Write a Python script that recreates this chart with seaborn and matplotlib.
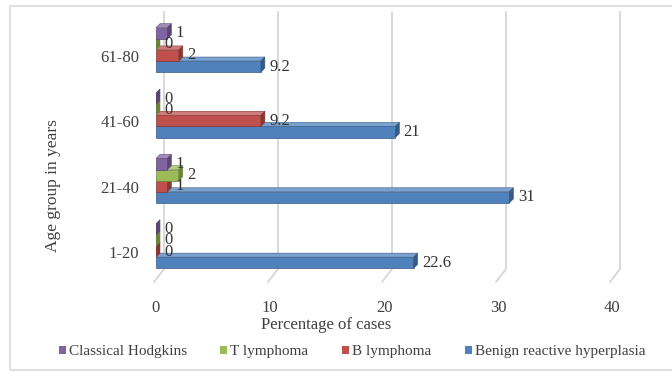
import matplotlib
matplotlib.use("Agg")
import matplotlib.pyplot as plt
from matplotlib.patches import Polygon, Rectangle
from matplotlib.lines import Line2D
from matplotlib.transforms import ScaledTranslation
import matplotlib.colors as mcolors
import numpy as np
import pandas as pd
import seaborn as sns

# ---- data ----
age_groups = ["61-80", "41-60", "21-40", "1-20"]
series_names = ["Classical Hodgkins", "T lymphoma", "B lymphoma", "Benign reactive hyperplasia"]
classical_hodgkins = [1, 0, 1, 0]
t_lymphoma = [0, 0, 2, 0]
b_lymphoma = [2, 9.2, 1, 0]
benign_hyperplasia = [9.2, 21, 31, 22.6]
x_ticks = [0, 10, 20, 30, 40]

colors = ["#8064A2", "#9BBB59", "#C0504D", "#4F81BD"]

rows = []
for name, vals in zip(series_names,
                      [classical_hodgkins, t_lymphoma, b_lymphoma, benign_hyperplasia]):
    for g, v in zip(age_groups, vals):
        rows.append({"Age group": g, "Type": name, "Value": v})
df = pd.DataFrame(rows)

sns.set_theme(style="white")
plt.rcParams["font.family"] = ["Liberation Serif", "DejaVu Serif"]
text_color = "#404040"

W, H = 672, 378
fig = plt.figure(figsize=(W / 100, H / 100), dpi=100)
ax_l, ax_r, ax_t, ax_b = 156, 612, 12, 282
ax = fig.add_axes([ax_l / W, 1 - ax_b / H, (ax_r - ax_l) / W, (ax_b - ax_t) / H])

sns.barplot(data=df, y="Age group", x="Value", hue="Type",
            order=age_groups, hue_order=series_names, palette=colors,
            orient="h", width=0.68, saturation=1, errorbar=None,
            legend=False, ax=ax)

y_lo, y_hi = 3.55, -0.58
ax.set_xlim(0, 40)
ax.set_ylim(y_lo, y_hi)
for s in ax.spines.values():
    s.set_visible(False)

# pixel -> data unit conversion for the pseudo-3D depth
ux = 40 / (ax_r - ax_l)
uy = (y_lo - y_hi) / (ax_b - ax_t)

# back-wall gridlines with a short slanted foot on the floor
floor_y = y_lo - 13 * uy
for t in x_ticks:
    ax.add_line(Line2D([t + 8 * ux, t + 8 * ux, t - 2 * ux],
                       [y_hi, floor_y, y_lo],
                       color="#D9D9D9", lw=1.4, zorder=0.5, clip_on=False))

# give each bar a top face and a darker side face
depth = 4
dx, dy = depth * ux, depth * uy
for container, col in zip(ax.containers, colors):
    rgb = np.array(mcolors.to_rgb(col))
    dark = tuple(rgb * 0.7)
    light = tuple(rgb + (1 - rgb) * 0.25)
    for rect in container:
        x0 = rect.get_x()
        xr = x0 + rect.get_width()
        yt = rect.get_y()
        yb = yt + rect.get_height()
        z = 10 - (yt + yb) / 2
        rect.set_zorder(z)
        rect.set_edgecolor(dark)
        rect.set_linewidth(0.5)
        top = Polygon([(x0, yt), (xr, yt), (xr + dx, yt - dy), (x0 + dx, yt - dy)],
                      closed=True, facecolor=light, edgecolor=dark, lw=0.4, zorder=z)
        side = Polygon([(xr, yb), (xr, yt), (xr + dx, yt - dy), (xr + dx, yb - dy)],
                       closed=True, facecolor=dark, edgecolor=dark, lw=0.4, zorder=z)
        ax.add_patch(top)
        ax.add_patch(side)
    ax.bar_label(container, fmt="{:g}", padding=6, fontsize=12,
                 color="#333333", zorder=20)

# axes text
ax.set_xticks(x_ticks)
ax.set_xticklabels([str(t) for t in x_ticks])
ax.tick_params(axis="x", length=0, pad=13, labelsize=12, labelcolor=text_color)
ax.tick_params(axis="y", length=0, pad=12, labelsize=12, labelcolor=text_color)
for lab in ax.get_yticklabels():
    lab.set_transform(lab.get_transform() + ScaledTranslation(0, -6 / 100, fig.dpi_scale_trans))

ax.set_xlabel("Percentage of cases", fontsize=12, color=text_color)
ax.xaxis.set_label_coords((326 - ax_l) / (ax_r - ax_l), (ax_b - 325) / (ax_b - ax_t))
ax.xaxis.label.set_verticalalignment("center")
ax.set_ylabel("Age group in years", fontsize=12.5, color=text_color)
ax.yaxis.set_label_coords((53 - ax_l) / (ax_r - ax_l), (ax_b - 186) / (ax_b - ax_t))
ax.yaxis.label.set_verticalalignment("center")

# legend with small square keys
handles = [Rectangle((0, 0), 1, 1, facecolor=c, edgecolor="none") for c in colors]
fig.legend(handles, series_names, ncol=4, loc="center",
           bbox_to_anchor=(352 / W, 1 - 352 / H), frameon=False,
           handlelength=0.45, handleheight=0.45, handletextpad=0.2,
           columnspacing=2.2, prop={"size": 11}, labelcolor=text_color,
           borderaxespad=0, borderpad=0)

# chart-area border
fig.patches.append(Rectangle((10 / W, 1 - 370 / H), 700 / W, 364 / H,
                             transform=fig.transFigure, fill=False,
                             edgecolor="#D9D9D9", lw=1.2))

fig.savefig("out.png", dpi=100)
